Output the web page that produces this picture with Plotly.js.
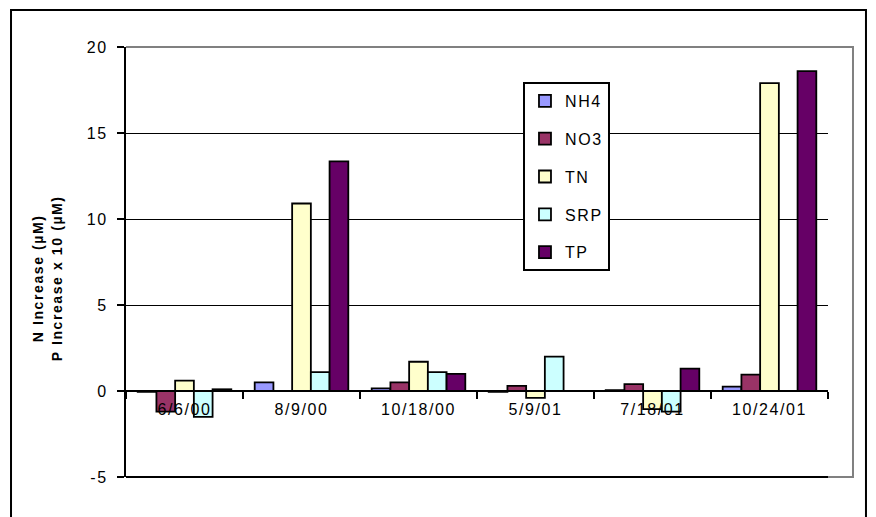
<!DOCTYPE html>
<html>
<head>
<meta charset="utf-8">
<script src="https://cdn.plot.ly/plotly-3.0.1.min.js"></script>
<style>
html, body { margin: 0; padding: 0; background: #fff; }
#chart { width: 876px; height: 517px; }
svg text { letter-spacing: 1.6px; }
</style>
</head>
<body>
<div id="chart"></div>
<script>
// Categories (sampling dates)
const dates = ["6/6/00", "8/9/00", "10/18/00", "5/9/01", "7/18/01", "10/24/01"];

// Series values (N increase in µM, P increase x 10 in µM)
const NH4 = [-0.05, 0.5, 0.15, -0.05, 0.05, 0.25];
const NO3 = [-1.2, null, 0.5, 0.3, 0.4, 0.95];
const TN  = [0.6, 10.9, 1.7, -0.4, -1.05, 17.9];
const SRP = [-1.5, 1.1, 1.1, 2.0, -1.2, null];
const TP  = [0.1, 13.35, 1.0, null, 1.3, 18.6];

const seriesNames = ["NH4", "NO3", "TN", "SRP", "TP"];
const seriesValues = [NH4, NO3, TN, SRP, TP];
const seriesColors = ["#9999FF", "#993366", "#FFFFCC", "#CCFFFF", "#660066"];

const yTicks = [-5, 0, 5, 10, 15, 20];

const FONT = "Liberation Sans, Arial, sans-serif";

// category positions and boundaries for the category axis drawn along the zero line
const catIndex = dates.map((d, i) => i);
const catBounds = dates.map((d, i) => i - 0.5).concat([dates.length - 0.5]);

const traces = seriesNames.map((name, i) => ({
  type: "bar",
  name: name,
  x: dates,
  y: seriesValues[i],
  legendgroup: name,
  marker: { color: seriesColors[i], line: { color: "#000000", width: 1.8 } },
  hoverinfo: "x+y+name"
}));

// empty helper trace so that the category axis along the zero line is rendered
traces.push({
  type: "scatter",
  mode: "markers",
  x: catIndex,
  y: catIndex.map(() => null),
  xaxis: "x2",
  yaxis: "y",
  showlegend: false,
  hoverinfo: "skip",
  marker: { opacity: 0 }
});

const layout = {
  width: 876,
  height: 517,
  margin: { l: 126, r: 48, t: 47, b: 40 },
  paper_bgcolor: "#ffffff",
  plot_bgcolor: "#ffffff",
  font: { family: FONT, size: 16, color: "#000000" },
  barmode: "group",
  bargap: 0.2,
  bargroupgap: 0,
  showlegend: true,
  legend: {
    x: 0.5655, y: 0.9186, xanchor: "left", yanchor: "top",
    bgcolor: "#ffffff", bordercolor: "#000000", borderwidth: 2,
    traceorder: "grouped", tracegroupgap: 14,
    font: { family: FONT, size: 16, color: "#000000" }
  },
  xaxis: {
    type: "category",
    anchor: "y",
    range: [-0.5, dates.length - 0.5],
    showline: false, ticks: "", showticklabels: false,
    showgrid: false, zeroline: false,
    fixedrange: true
  },
  xaxis2: {
    overlaying: "x",
    anchor: "free",
    position: 0.2,
    type: "linear",
    range: [-0.5, dates.length - 0.5],
    tickmode: "array",
    tickvals: catIndex,
    ticktext: dates,
    ticks: "",
    showline: true, linecolor: "#000000", linewidth: 2,
    showgrid: false, zeroline: false,
    tickfont: { family: FONT, size: 16, color: "#000000" },
    minor: { tickmode: "array", tickvals: catBounds, ticks: "outside", ticklen: 7, tickwidth: 1.5, tickcolor: "#000000", showgrid: false },
    ticklabelstandoff: 4,
    fixedrange: true
  },
  yaxis: {
    range: [-5, 20],
    tickvals: yTicks,
    ticktext: yTicks.map(String),
    showline: true, linecolor: "#000000", linewidth: 2,
    ticks: "outside", ticklen: 7, tickwidth: 1.5, tickcolor: "#000000",
    showgrid: true, gridcolor: "#000000", gridwidth: 1,
    zeroline: true, zerolinecolor: "#000000", zerolinewidth: 2,
    tickfont: { family: FONT, size: 16, color: "#000000" },
    ticklabelstandoff: 6,
    title: { text: "" },
    fixedrange: true
  },
  annotations: [{
    xref: "paper", yref: "paper",
    x: -0.112, y: 0.463,
    xanchor: "center", yanchor: "middle",
    textangle: -90,
    showarrow: false,
    text: "<b>N Increase (µM)</b><br><b>P Increase x 10 (µM)</b>",
    font: { family: FONT, size: 14, color: "#000000" }
  }],
  shapes: [
    { type: "rect", xref: "paper", yref: "paper",
      x0: -0.1638, x1: 1.0541, y0: -0.25, y1: 1.086,
      line: { color: "#000000", width: 2 }, layer: "below" },
    { type: "path", xref: "paper", yref: "paper",
      path: "M 0,1 L 1.0356,1 L 1.0356,0 L 1,0",
      line: { color: "#808080", width: 2 }, layer: "above" },
    { type: "line", xref: "paper", yref: "paper",
      x0: 0, x1: 1, y0: 0, y1: 0,
      line: { color: "#000000", width: 2 }, layer: "above" }
  ]
};

Plotly.newPlot("chart", traces, layout, { displayModeBar: false });
</script>
</body>
</html>
